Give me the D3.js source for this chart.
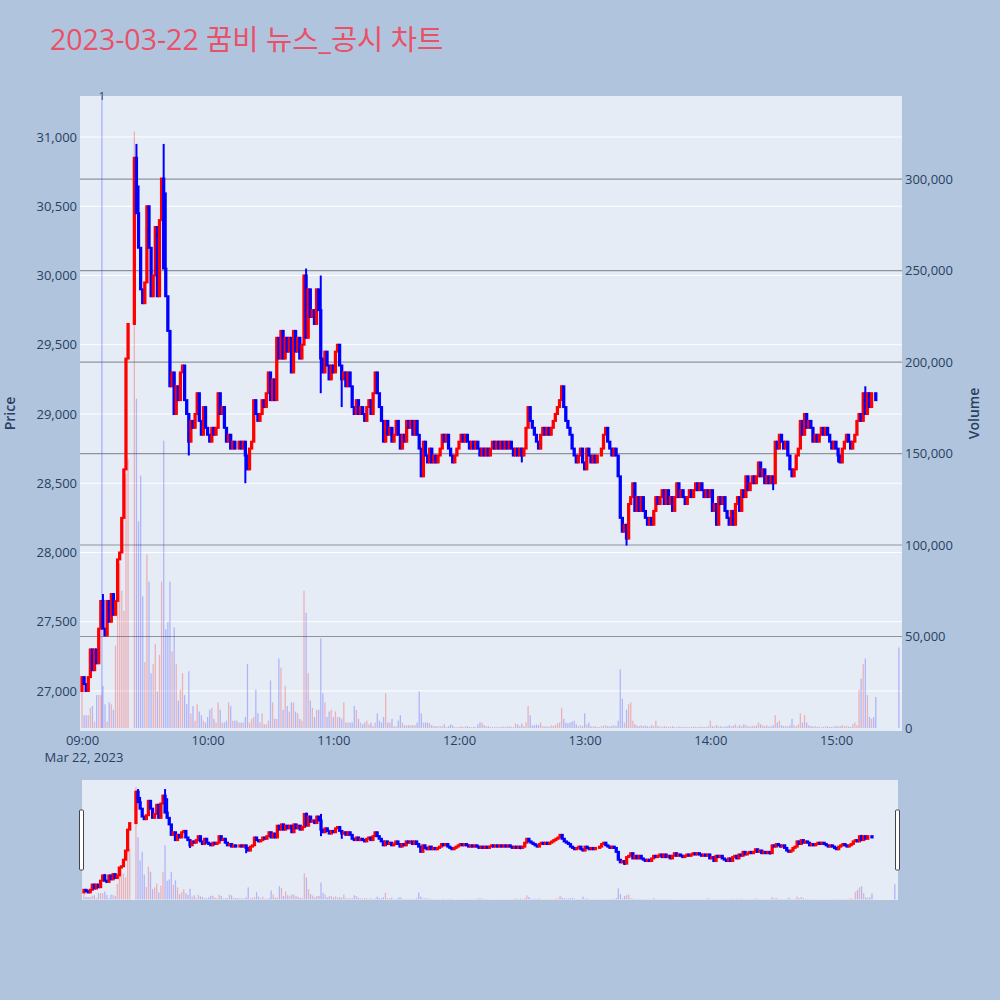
<!DOCTYPE html>
<html>

<head>
    <meta charset="utf-8">
    <style>
        body {
            margin: 0;
            background-color: #b0c4de;
        }

        svg {
            display: block;
            font-family: "Open Sans", "Noto Sans CJK KR", sans-serif;
        }
    </style>
</head>

<body>
    <svg width="1000" height="1000"></svg>
</body>

<script src="https://d3js.org/d3.v7.min.js"></script>

<script>
    // ---- data (1 minute candles, 09:00 ~ 15:19, plus 15:30 closing auction) ----
    const tradeDate = "2023-03-22"
    const firstMinute = "09:00"
    const firstOpen = 27000

    // close of each minute, null = no trade (VI single price auction)
    const closes = [
        27100, 27050, 27000, 27100, 27300, 27150, 27300, 27200, 27450, 27650,
        27450, 27400, 27650, 27500, 27700, 27550, 27650, 27950, 28000, 28250,
        28600, 29400, 29650, null, null, 30850, 30450, 30200, 29900, 29800,
        29950, 30500, 30200, 29850, 30000, 30350, 29850, 30400, 30700, 30050,
        29850, 29600, 29200, 29300, 29000, 29200, 29100, 29300, 29350, 29100,
        29000, 28800, 28950, 28900, 29000, 29150, 28950, 28850, 29050, 28900,
        28850, 28800, 28900, 28850, 28900, 29150, 29000, 29050, 28900, 28800,
        28850, 28750, 28800, 28750, 28750, 28800, 28750, 28800, 28700, 28600,
        28750, 28800, 29100, 29000, 28950, 29000, 29100, 29050, 29150, 29300,
        29100, 29250, 29100, 29550, 29400, 29600, 29400, 29550, 29450, 29550,
        29300, 29600, 29450, 29550, 29400, 29500, 30000, 29550, 29900, 29700,
        29750, 29650, 29900, 29750, 29400, 29300, 29450, 29350, 29250, 29350,
        29300, 29450, 29500, 29350, 29250, 29300, 29200, 29300, 29200, 29050,
        29000, 29100, 29000, 29050, 29000, 28950, 29050, 29100, 29000, 29150,
        29300, 29150, 29050, 28950, 28800, 28950, 28850, 28900, 28800, 28850,
        28950, 28850, 28750, 28850, 28800, 28950, 28900, 28950, 28850, 28950,
        28850, 28750, 28550, 28800, 28700, 28650, 28750, 28650, 28700, 28650,
        28700, 28750, 28850, 28800, 28850, 28750, 28700, 28650, 28700, 28750,
        28800, 28850, 28800, 28850, 28800, 28750, 28800, 28750, 28800, 28750,
        28700, 28750, 28700, 28750, 28700, 28750, 28800, 28750, 28800, 28750,
        28800, 28750, 28800, 28750, 28800, 28750, 28700, 28750, 28700, 28750,
        28700, 28750, 28900, 29050, 28950, 28900, 28850, 28800, 28750, 28850,
        28900, 28850, 28900, 28850, 28900, 28950, 29000, 29050, 29100, 29200,
        29050, 28950, 28900, 28850, 28750, 28700, 28650, 28700, 28750, 28650,
        28600, 28750, 28700, 28650, 28700, 28650, 28700, 28700, 28750, 28850,
        28900, 28800, 28750, 28700, 28750, 28700, 28550, 28250, 28150, 28200,
        28100, 28350, 28400, 28500, 28300, 28400, 28300, 28400, 28300, 28250,
        28200, 28250, 28200, 28300, 28400, 28350, 28400, 28450, 28350, 28450,
        28350, 28400, 28300, 28400, 28500, 28400, 28450, 28400, 28350, 28400,
        28450, 28400, 28450, 28500, 28450, 28500, 28450, 28400, 28450, 28400,
        28450, 28300, 28350, 28200, 28400, 28350, 28400, 28300, 28250, 28200,
        28300, 28200, 28350, 28400, 28300, 28450, 28400, 28550, 28450, 28500,
        28550, 28500, 28550, 28650, 28550, 28600, 28500, 28550, 28500, 28550,
        28500, 28800, 28750, 28850, 28800, 28750, 28800, 28700, 28600, 28550,
        28600, 28700, 28750, 28950, 28850, 29000, 28900, 28950, 28900, 28800,
        28850, 28800, 28850, 28900, 28850, 28900, 28850, 28800, 28750, 28800,
        28750, 28700, 28650, 28750, 28800, 28850, 28800, 28750, 28800, 28850,
        28950, 29000, 28950, 29150, 29000, 29150, 29050, 29150, 29150, 29100
    ]

    const volumes = [
        20000, 7000, 7000, 7000, 11000, 12000, 3500, 18000, 18000, 18000,
        23000, 13000, 3500, 14000, 13000, 10000, 45000, 92000, 90000, 75000,
        64000, 139000, 147000, null, null, 326000, 180000, 113000, 138000, 72000,
        36000, 95000, 80000, 30000, 35000, 46000, 20000, 40000, 80000, 157000,
        54000, 58000, 80000, 42000, 55000, 35000, 15000, 21000, 30000, 18000,
        13000, 31000, 8000, 12000, 4000, 13000, 9000, 7000, 4000, 3000,
        6000, 10000, 11000, 5000, 3000, 14000, 10000, 3000, 3000, 4000,
        14000, 12000, 4000, 4000, 4000, 3000, 3000, 3000, 6000, 35000,
        3000, 5000, 6000, 21000, 8000, 3000, 8000, 2000, 2000, 4000,
        26000, 14000, 5000, 5000, 38000, 33000, 10000, 23000, 12000, 9000,
        14000, 14000, 9000, 8000, 5000, 4000, 75000, 63000, 30000, 15000,
        11000, 6000, 10000, 10000, 49000, 19000, 14000, 6000, 9000, 10000,
        6000, 9000, 6000, 6000, 5000, 14000, 3000, 3000, 3000, 3000,
        12000, 10000, 5000, 3000, 2000, 3000, 4000, 2000, 3000, 1000,
        3000, 8000, 4000, 3000, 6000, 19000, 3000, 3000, 5000, 1000,
        1000, 4000, 7000, 3000, 1500, 1500, 1500, 1500, 1500, 1500,
        3000, 20000, 8000, 3000, 3000, 3000, 2500, 1500, 1000, 1000,
        1000, 1000, 1000, 2000, 500, 1000, 2000, 1500, 500, 500,
        500, 1000, 500, 800, 1000, 600, 500, 700, 500, 2000,
        3000, 3000, 1500, 1000, 1000, 500, 500, 500, 500, 500,
        600, 800, 500, 700, 1000, 600, 500, 2500, 2000, 1000,
        2500, 1000, 3000, 12000, 7000, 1500, 1500, 2000, 1500, 3000,
        1000, 800, 1000, 600, 1500, 1000, 1500, 2500, 3000, 11000,
        5000, 3000, 2500, 3000, 3500, 4000, 2000, 1000, 1500, 1000,
        8000, 2000, 3000, 1000, 800, 1000, 600, 500, 1000, 1200,
        1500, 1000, 800, 1200, 1500, 1000, 4000, 32000, 16000, 3000,
        10000, 13000, 14000, 4000, 2000, 1500, 1000, 1500, 1000, 1200,
        1000, 800, 1500, 1000, 4000, 1000, 800, 600, 1000, 800,
        600, 800, 1000, 600, 500, 800, 600, 500, 700, 500,
        600, 500, 800, 600, 500, 700, 600, 500, 600, 800,
        4000, 1000, 800, 1500, 800, 1000, 600, 800, 1000, 1500,
        1000, 1200, 2000, 800, 1500, 1000, 2000, 1500, 1000, 800,
        1200, 1000, 1500, 3000, 2000, 1500, 1000, 1500, 800, 1000,
        1500, 7000, 3000, 4000, 1500, 1000, 1200, 800, 1500, 5000,
        1500, 1000, 2000, 8000, 3000, 7000, 3000, 1500, 1000, 800,
        1000, 600, 800, 500, 600, 800, 1000, 500, 600, 800,
        1200, 800, 1000, 1500, 1000, 1200, 800, 600, 2000, 3000,
        1500, 21000, 27000, 35000, 38000, 18000, 6000, 5000, 6000, 17000
    ]

    // [minute index, high, low] where the wick goes past the body
    const wicks = [
        [10, 27700, null], [26, 30950, null], [27, 30650, null], [39, 30950, null],
        [40, 30600, null], [51, null, 28700], [78, null, 28500], [107, 30050, null],
        [114, 30000, 29150], [124, null, 29050], [210, null, 28650], [260, null, 28050],
        [330, null, 28450], [361, null, 28650], [374, 29200, null]
    ]

    const closingAuction = { time: "15:30", price: 29100, volume: 44000 }
    const newsEvents = [{ time: "09:09:30", label: "1" }]

    const priceTicks = [27000, 27500, 28000, 28500, 29000, 29500, 30000, 30500, 31000]
    const volumeTicks = [0, 50000, 100000, 150000, 200000, 250000, 300000]
    const timeTicks = ["09:00", "10:00", "11:00", "12:00", "13:00", "14:00", "15:00"]

    const upColor = "#ff0000"
    const downColor = "#0000ff"

    // ---- build candles ----
    let parseMin = d3.timeParse("%Y-%m-%d %H:%M")
    let parseSec = d3.timeParse("%Y-%m-%d %H:%M:%S")
    let start = parseMin(tradeDate + " " + firstMinute)

    let candles = []
    let prev = firstOpen
    closes.forEach((c, i) => {
        if (c === null) return
        let w = wicks.find(k => k[0] === i)
        let o = prev
        candles.push({
            t: d3.timeMinute.offset(start, i),
            o: o, c: c,
            h: w && w[1] !== null ? w[1] : Math.max(o, c),
            l: w && w[2] !== null ? w[2] : Math.min(o, c),
            v: volumes[i]
        })
        prev = c
    })
    candles.push({
        t: parseMin(tradeDate + " " + closingAuction.time),
        o: closingAuction.price, c: closingAuction.price,
        h: closingAuction.price, l: closingAuction.price,
        v: closingAuction.volume
    })
    candles.forEach(d => d.up = d.c > d.o)

    // ---- layout ----
    let svg = d3.select("svg")
    let plot = { left: 80, right: 902, top: 96, bottom: 731 }
    let slider = { left: 82, right: 898, top: 780, bottom: 900 }

    let xDomain = [parseSec(tradeDate + " 08:59:03"), parseSec(tradeDate + " 15:31:31")]
    let priceDomain = [26711, 31296]
    let volDomain = [-1640, 345400]

    let x = d3.scaleTime().domain(xDomain).range([plot.left, plot.right])
    let y = d3.scaleLinear().domain(priceDomain).range([plot.bottom, plot.top])
    let y2 = d3.scaleLinear().domain(volDomain).range([plot.bottom, plot.top])

    let xs = d3.scaleTime().domain(xDomain).range([slider.left, slider.right])
    let ys = d3.scaleLinear().domain(priceDomain).range([slider.bottom, slider.top])
    let ys2 = d3.scaleLinear().domain(volDomain).range([slider.bottom, slider.top])

    // title
    svg.append("text")
        .attr("x", 50).attr("y", 50)
        .style("font-size", "28.5px")
        .style("fill", "#ea5068")
        .text(tradeDate + " 꿈비 뉴스_공시 차트")

    // plot backgrounds
    svg.append("rect")
        .attr("x", plot.left).attr("y", plot.top)
        .attr("width", plot.right - plot.left).attr("height", plot.bottom - plot.top)
        .style("fill", "#e5ecf6")

    svg.append("rect")
        .attr("x", slider.left).attr("y", slider.top)
        .attr("width", slider.right - slider.left).attr("height", slider.bottom - slider.top)
        .style("fill", "#e5ecf6")

    // grid lines
    svg.append("g")
        .selectAll("line")
        .data(priceTicks)
        .join("line")
        .attr("x1", plot.left).attr("x2", plot.right)
        .attr("y1", d => y(d)).attr("y2", d => y(d))
        .style("stroke", "white")
        .style("stroke-width", 1)

    svg.append("g")
        .selectAll("line")
        .data(volumeTicks.filter(d => d > 0))
        .join("line")
        .attr("x1", plot.left).attr("x2", plot.right)
        .attr("y1", d => y2(d)).attr("y2", d => y2(d))
        .style("stroke", "#8f949c")
        .style("stroke-width", 1.2)

    // axes
    let tickFont = g => g.selectAll("text")
        .style("font-family", "'Open Sans', sans-serif")
        .style("font-size", "13px")
        .style("fill", "#2a3f5f")

    svg.append("g")
        .attr("transform", `translate(${plot.left},0)`)
        .call(d3.axisLeft(y).tickValues(priceTicks).tickFormat(d3.format(",")).tickSize(0).tickPadding(3))
        .call(g => g.select(".domain").remove())
        .call(tickFont)

    svg.append("g")
        .attr("transform", `translate(${plot.right},0)`)
        .call(d3.axisRight(y2).tickValues(volumeTicks).tickFormat(d3.format(",")).tickSize(0).tickPadding(3))
        .call(g => g.select(".domain").remove())
        .call(tickFont)

    let timeTickDates = timeTicks.map(t => parseMin(tradeDate + " " + t))
    svg.append("g")
        .attr("transform", `translate(0,${plot.bottom})`)
        .call(d3.axisBottom(x).tickValues(timeTickDates).tickFormat(d3.timeFormat("%H:%M")).tickSize(0).tickPadding(5))
        .call(g => g.select(".domain").remove())
        .call(tickFont)

    svg.append("text")
        .attr("x", x(timeTickDates[0]) + 2).attr("y", plot.bottom + 31)
        .attr("text-anchor", "middle")
        .style("font-size", "13px")
        .style("fill", "#2a3f5f")
        .text("Mar 22, 2023")

    svg.append("text")
        .attr("transform", `translate(10,${(plot.top + plot.bottom) / 2}) rotate(-90)`)
        .attr("text-anchor", "middle")
        .attr("dy", "0.35em")
        .style("font-size", "14px")
        .style("font-weight", "600")
        .style("fill", "#2a3f5f")
        .text("Price")

    svg.append("text")
        .attr("transform", `translate(974,${(plot.top + plot.bottom) / 2}) rotate(-90)`)
        .attr("text-anchor", "middle")
        .attr("dy", "0.35em")
        .style("font-size", "14px")
        .style("font-weight", "600")
        .style("fill", "#2a3f5f")
        .text("Volume")

    // news markers
    let news = svg.append("g")
    newsEvents.forEach(n => {
        let nx = x(parseSec(tradeDate + " " + n.time))
        news.append("line")
            .attr("x1", nx).attr("x2", nx)
            .attr("y1", plot.top).attr("y2", y2(0))
            .style("stroke", "rgba(60,80,255,0.3)")
            .style("stroke-width", 1.6)
        news.append("text")
            .attr("x", nx).attr("y", plot.top + 4)
            .attr("text-anchor", "middle")
            .style("font-size", "11px")
            .style("fill", "#2a3f5f")
            .text(n.label)
    })

    // volume bars + candles, drawn in the main plot and the range slider
    function drawChart(g, xScale, yScale, vScale) {
        let step = xScale(d3.timeMinute.offset(start, 1)) - xScale(start)
        let bw = step * 0.62

        g.append("g")
            .selectAll("rect")
            .data(candles.filter(d => d.v))
            .join("rect")
            .attr("x", d => xScale(d.t) - bw / 2)
            .attr("width", bw)
            .attr("y", d => vScale(d.v))
            .attr("height", d => vScale(0) - vScale(d.v))
            .style("fill", d => d.up ? "rgba(255,0,0,0.25)" : "rgba(0,0,255,0.23)")

        g.append("g")
            .selectAll("line")
            .data(candles)
            .join("line")
            .attr("x1", d => xScale(d.t)).attr("x2", d => xScale(d.t))
            .attr("y1", d => yScale(d.h)).attr("y2", d => yScale(d.l))
            .style("stroke", d => d.up ? upColor : downColor)
            .style("stroke-width", 2)

        let boxW = step * 0.6
        g.append("g")
            .selectAll("rect")
            .data(candles)
            .join("rect")
            .attr("x", d => xScale(d.t) - boxW / 2)
            .attr("width", boxW)
            .attr("y", d => yScale(Math.max(d.o, d.c)))
            .attr("height", d => Math.abs(yScale(d.o) - yScale(d.c)))
            .style("fill", d => d.up ? upColor : downColor)
            .style("stroke", d => d.up ? upColor : downColor)
            .style("stroke-width", 2)
    }

    let mainG = svg.append("g")
    drawChart(mainG, x, y, y2)

    let sliderG = svg.append("g")
    drawChart(sliderG, xs, ys, ys2)

    // range slider grabbers
    svg.append("g")
        .selectAll("rect")
        .data([slider.left, slider.right])
        .join("rect")
        .attr("x", d => d - 2.5)
        .attr("y", 810)
        .attr("width", 4)
        .attr("height", 60)
        .attr("rx", 1)
        .style("fill", "white")
        .style("stroke", "#444")
        .style("stroke-width", 1)

</script>

</html>
